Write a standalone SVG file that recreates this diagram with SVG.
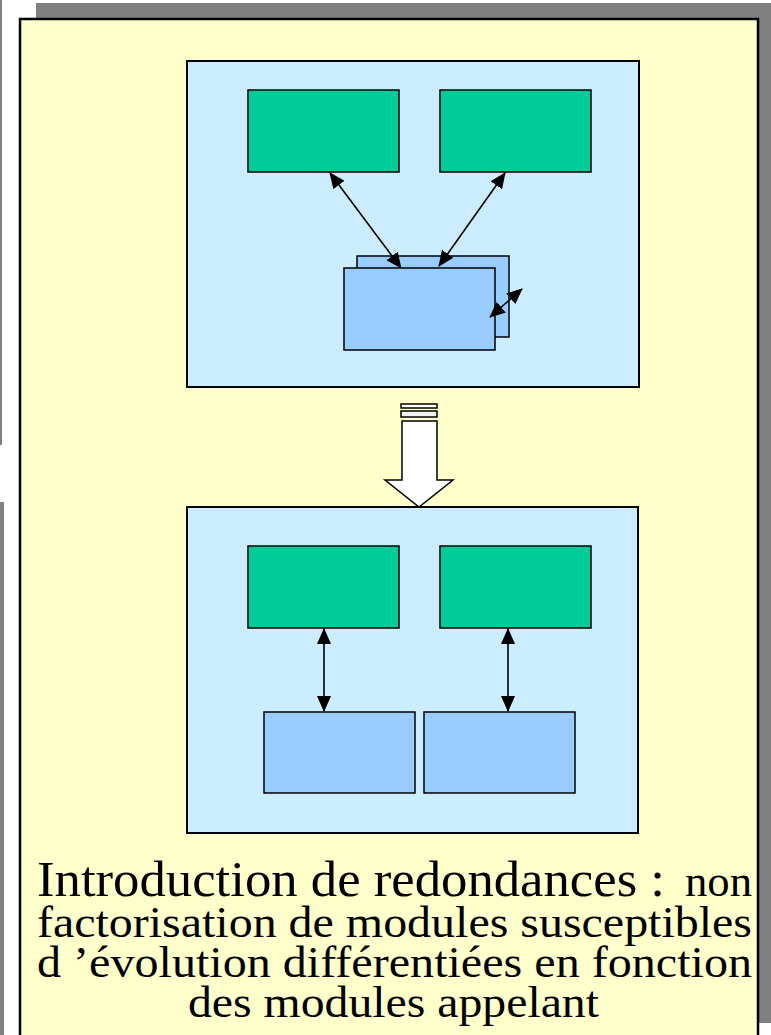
<svg xmlns="http://www.w3.org/2000/svg" width="771" height="1035" viewBox="0 0 771 1035">
<style>
.shadow{fill:#808080}
.panel{fill:#FFFFCC;stroke:#000;stroke-width:2.5}
.frame{fill:#CCECFF;stroke:#000;stroke-width:2}
.green{fill:#00CC99;stroke:#000;stroke-width:1.5}
.blue{fill:#99CCFF;stroke:#000;stroke-width:1.5}
.conn{stroke:#000;stroke-width:1.6;fill:none;marker-start:url(#ah);marker-end:url(#ah)}
</style>
<defs>
<marker id="ah" viewBox="0 0 16 14" refX="15" refY="7" markerWidth="16" markerHeight="14" markerUnits="userSpaceOnUse" orient="auto-start-reverse">
<path d="M0,0 L16,7 L0,14 Z" fill="#000"/>
</marker>
</defs>
<rect width="771" height="1035" fill="#FFFFFF"/>
<g id="shadows">
<rect class="shadow" x="36" y="3" width="735" height="20"/>
<rect class="shadow" x="755" y="3" width="16" height="1020"/>
<rect class="shadow" x="0" y="0" width="2" height="445"/>
<rect class="shadow" x="0" y="502" width="4" height="533"/>
</g>
<g id="panel">
<rect class="panel" x="20" y="19" width="738" height="1030"/>
</g>
<g id="top-frame">
<rect class="frame" x="187" y="61" width="452" height="326"/>
</g>
<g id="top-green-1"><rect class="green" x="248" y="90" width="151" height="82"/></g>
<g id="top-green-2"><rect class="green" x="440" y="90" width="151" height="82"/></g>
<g id="top-blue-stack">
<rect class="blue" x="357" y="256" width="152" height="81"/>
<rect class="blue" x="344" y="268" width="151" height="82"/>
</g>
<g id="transform-arrow">
<rect x="401" y="404" width="36" height="4" fill="#FFFFFF" stroke="#000" stroke-width="1.5"/>
<rect x="401" y="411" width="36" height="6" fill="#F2F2F2" stroke="#000" stroke-width="1.5"/>
<path d="M402,421 L437,421 L437,480 L453,480 L419,507 L385,480 L402,480 Z" fill="#FFFFFF" stroke="#000" stroke-width="1.5"/>
</g>
<g id="bottom-frame">
<rect class="frame" x="187" y="507" width="451" height="326"/>
</g>
<g id="bottom-green-1"><rect class="green" x="248" y="546" width="151" height="82"/></g>
<g id="bottom-green-2"><rect class="green" x="440" y="546" width="151" height="82"/></g>
<g id="bottom-blue-1"><rect class="blue" x="264" y="712" width="151" height="81"/></g>
<g id="bottom-blue-2"><rect class="blue" x="424" y="712" width="151" height="81"/></g>
<g id="connectors">
<line class="conn" x1="330" y1="173" x2="401" y2="268"/>
<line class="conn" x1="505" y1="173" x2="439" y2="266"/>
<line class="conn" x1="490" y1="317" x2="522" y2="289"/>
<line class="conn" x1="324" y1="629" x2="324" y2="711"/>
<line class="conn" x1="508" y1="629" x2="508" y2="711"/>
</g>
<g id="caption" font-family="'Liberation Serif', Tinos, 'Times New Roman', Times, serif" fill="#000">
<text x="37" y="896" font-size="50" textLength="628" lengthAdjust="spacingAndGlyphs">Introduction de redondances :</text>
<text x="685" y="896" font-size="44" textLength="67" lengthAdjust="spacingAndGlyphs">non</text>
<text x="37" y="937" font-size="44" textLength="715" lengthAdjust="spacingAndGlyphs">factorisation de modules susceptibles</text>
<text x="37" y="977" font-size="44" textLength="715" lengthAdjust="spacingAndGlyphs">d ’évolution différentiées en fonction</text>
<text x="188" y="1017" font-size="44" textLength="411" lengthAdjust="spacingAndGlyphs">des modules appelant</text>
</g>
</svg>
